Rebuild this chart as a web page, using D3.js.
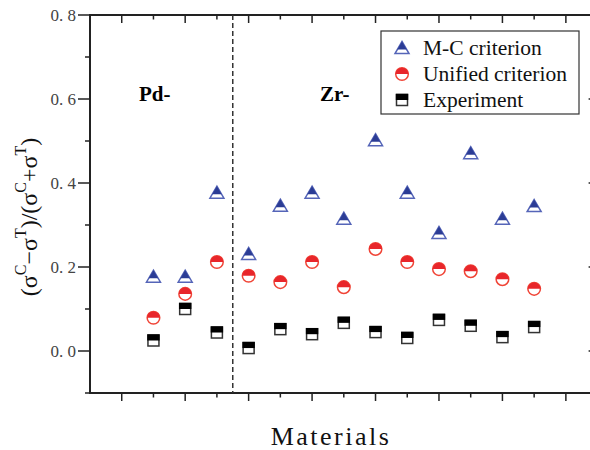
<!DOCTYPE html>
<html>
<head>
<meta charset="utf-8">
<script src="https://cdn.jsdelivr.net/npm/d3@7.9.0/dist/d3.min.js"></script>
<style>
  body { margin: 0; background: #fff; }
  svg { display: block; }
</style>
</head>
<body>
<svg width="590" height="450"></svg>
<script>
// positions of the materials on the x axis (Pd- alloys then Zr- alloys)
const materials = ['Pd-1', 'Pd-2', 'Pd-3', 'Zr-1', 'Zr-2', 'Zr-3', 'Zr-4', 'Zr-5',
  'Zr-6', 'Zr-7', 'Zr-8', 'Zr-9', 'Zr-10'];
const xIndex = [2, 3, 4, 5, 6, 7, 8, 9, 10, 11, 12, 13, 14];

const mcCriterion = [0.177, 0.177, 0.377, 0.231, 0.346, 0.377, 0.315, 0.502, 0.377, 0.281, 0.471, 0.315, 0.345];
const unifiedCriterion = [0.079, 0.136, 0.212, 0.179, 0.164, 0.212, 0.152, 0.243, 0.212, 0.195, 0.190, 0.171, 0.148];
const experiment = [0.025, 0.100, 0.044, 0.007, 0.052, 0.040, 0.067, 0.045, 0.031, 0.074, 0.060, 0.033, 0.057];

const yMajor = [0.0, 0.2, 0.4, 0.6, 0.8];
const yMinor = [-0.1, 0.1, 0.3, 0.5, 0.7];
const xTicks = d3.range(1, 16);

const svg = d3.select('svg');
const pLeft = 90, pRight = 597.6, pTop = 15, pBottom = 393;

const x = d3.scaleLinear().domain([0, 16]).range([pLeft, pRight]);
const y = d3.scaleLinear().domain([-0.1, 0.8]).range([pBottom, pTop]);

// clip used for the half-filled markers (local coords)
const defs = svg.append('defs');
defs.append('clipPath').attr('id', 'triTop').attr('clipPathUnits', 'userSpaceOnUse')
  .append('rect').attr('x', -10).attr('y', -10).attr('width', 20).attr('height', 11.5);
defs.append('clipPath').attr('id', 'half').attr('clipPathUnits', 'userSpaceOnUse')
  .append('rect').attr('x', -10).attr('y', -10).attr('width', 20).attr('height', 10);

const serif = '"Liberation Serif", "Times New Roman", serif';

// axes frame
const axisColor = '#222';
const frame = svg.append('g').attr('stroke', axisColor).attr('stroke-width', 2).attr('fill', 'none');
frame.append('line').attr('x1', pLeft).attr('x2', pLeft).attr('y1', pTop).attr('y2', pBottom);
frame.append('line').attr('x1', pLeft - 1).attr('x2', pRight).attr('y1', pBottom).attr('y2', pBottom);
frame.append('line').attr('x1', pLeft - 1).attr('x2', pRight).attr('y1', pTop).attr('y2', pTop);
frame.append('line').attr('x1', pRight).attr('x2', pRight).attr('y1', pTop).attr('y2', pBottom);

// y ticks (left outward, right inward)
const ticks = svg.append('g').attr('stroke', axisColor).attr('stroke-width', 1.5);
yMajor.forEach(v => {
  ticks.append('line').attr('x1', pLeft - 12).attr('x2', pLeft).attr('y1', y(v)).attr('y2', y(v));
  ticks.append('line').attr('x1', pRight - 9).attr('x2', pRight).attr('y1', y(v)).attr('y2', y(v));
});
yMinor.forEach(v => {
  ticks.append('line').attr('x1', pLeft - 5).attr('x2', pLeft).attr('y1', y(v)).attr('y2', y(v));
});

// x ticks (bottom outward, top inward), major on odd positions
xTicks.forEach(t => {
  const len = t % 2 === 1 ? 8 : 4.5;
  ticks.append('line').attr('x1', x(t)).attr('x2', x(t)).attr('y1', pBottom).attr('y2', pBottom + len);
  ticks.append('line').attr('x1', x(t)).attr('x2', x(t)).attr('y1', pTop).attr('y2', pTop + len);
});

// y tick labels
svg.append('g').selectAll('text').data(yMajor).join('text')
  .attr('x', pLeft - 14).attr('y', d => y(d) + 5.5)
  .attr('text-anchor', 'end')
  .attr('font-family', serif).attr('font-size', 17).attr('fill', '#444')
  .text(d => d.toFixed(1).replace('.', '. '));

// dashed separator between Pd- and Zr-
svg.append('line')
  .attr('x1', x(4.5)).attr('x2', x(4.5)).attr('y1', pTop).attr('y2', pBottom)
  .attr('stroke', '#333').attr('stroke-width', 1.5).attr('stroke-dasharray', '5,3');

// group labels
svg.append('text').attr('x', 139).attr('y', 101).attr('font-family', serif)
  .attr('font-weight', 'bold').attr('font-size', 21).text('Pd-');
svg.append('text').attr('x', 320).attr('y', 101).attr('font-family', serif)
  .attr('font-weight', 'bold').attr('font-size', 21).text('Zr-');

// marker drawing
function triangle(g) {
  const p = 'M0,-6.5L7,5.5L-7,5.5Z';
  g.append('path').attr('d', p).attr('fill', '#fff').attr('stroke', '#5565b8').attr('stroke-width', 1.5);
  g.append('path').attr('d', p).attr('fill', '#2b3c95').attr('clip-path', 'url(#triTop)');
}
function circle(g) {
  g.append('circle').attr('r', 6.3).attr('fill', '#fff').attr('stroke', '#f04436').attr('stroke-width', 1.5);
  g.append('circle').attr('r', 6.3).attr('fill', '#e8262b').attr('clip-path', 'url(#half)');
}
function square(g) {
  g.append('rect').attr('x', -5.5).attr('y', -5.5).attr('width', 11).attr('height', 11)
    .attr('fill', '#fff').attr('stroke', '#333').attr('stroke-width', 1.5);
  g.append('rect').attr('x', -6.2).attr('y', -6.2).attr('width', 12.4).attr('height', 6.2)
    .attr('fill', '#000');
}

const series = [
  { name: 'M-C criterion', values: mcCriterion, draw: triangle },
  { name: 'Unified criterion', values: unifiedCriterion, draw: circle },
  { name: 'Experiment', values: experiment, draw: square }
];

series.slice().reverse().forEach(s => {
  s.values.forEach((v, i) => {
    const g = svg.append('g').attr('transform', `translate(${x(xIndex[i])},${y(v)})`);
    s.draw(g);
  });
});

// legend
const legend = svg.append('g');
legend.append('rect').attr('x', 381).attr('y', 31).attr('width', 198).attr('height', 83)
  .attr('fill', '#fff').attr('stroke', '#333').attr('stroke-width', 1.2);
series.forEach((s, i) => {
  const cy = 48 + i * 26;
  const g = legend.append('g').attr('transform', `translate(402,${cy})`);
  s.draw(g);
  legend.append('text').attr('x', 423).attr('y', cy + 7)
    .attr('font-family', serif).attr('font-size', 21.5).attr('fill', '#111').text(s.name);
});

// axis titles
svg.append('text').attr('x', 331).attr('y', 445).attr('text-anchor', 'middle')
  .attr('font-family', serif).attr('font-size', 26).attr('letter-spacing', 2.5)
  .attr('fill', '#111').text('Materials');

const yl = svg.append('text')
  .attr('transform', 'translate(37,217) rotate(-90)')
  .attr('text-anchor', 'middle')
  .attr('font-family', serif).attr('font-size', 24).attr('fill', '#111');
const parts = [['(σ', 'C'], ['−σ', 'T'], [')/(σ', 'C'], ['+σ', 'T'], [')', null]];
let shifted = false;
parts.forEach(([base, sup]) => {
  yl.append('tspan').attr('dy', shifted ? 11 : 0).text(base);
  shifted = false;
  if (sup) {
    yl.append('tspan').attr('font-size', 16).attr('dy', -11).text(sup);
    shifted = true;
  }
});
</script>
</body>
</html>
